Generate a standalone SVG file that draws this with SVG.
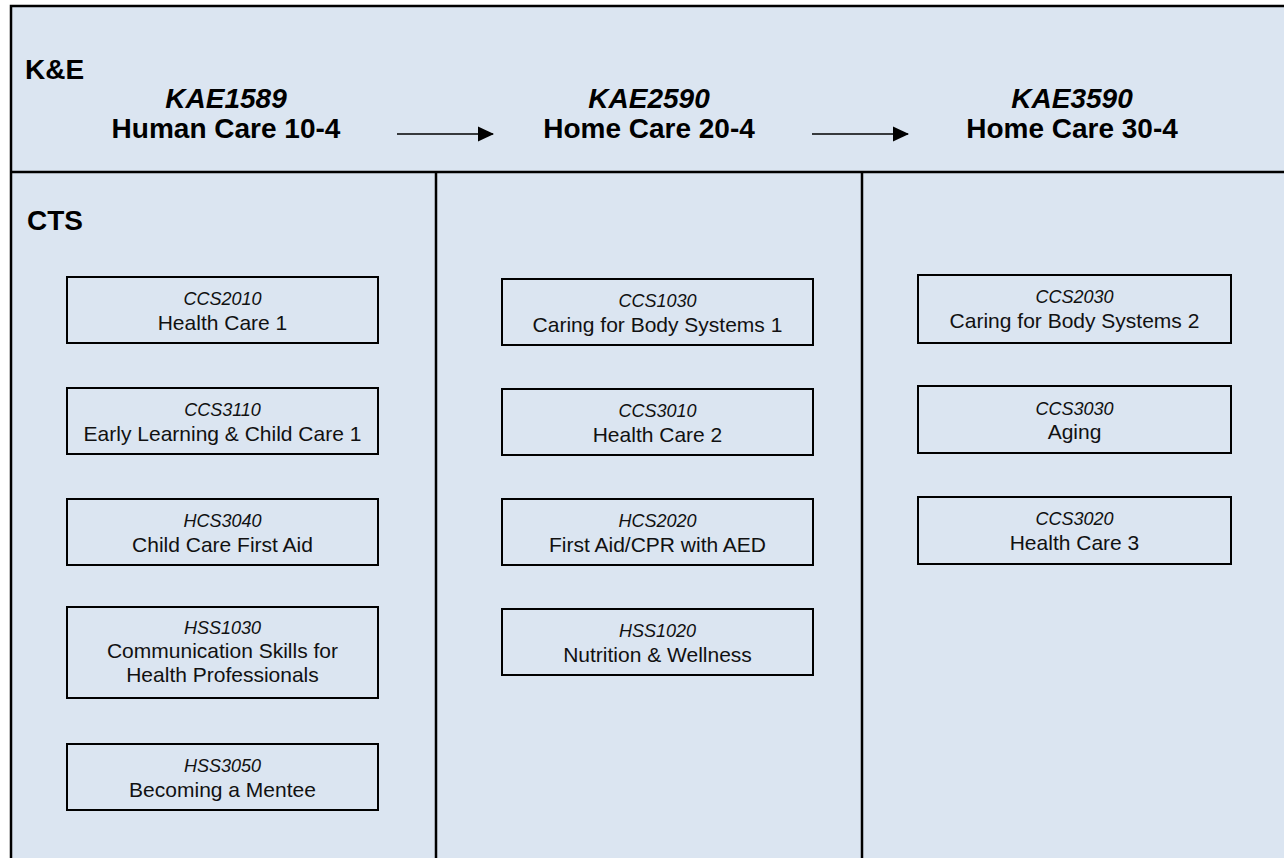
<svg xmlns="http://www.w3.org/2000/svg" width="1284" height="858" viewBox="0 0 1284 858">
<style>
.frame{fill:#DBE5F1;stroke:#000;stroke-width:2.5}
.div{stroke:#000;stroke-width:2.5;fill:none}
.box{fill:#DBE5F1;stroke:#000;stroke-width:2}
.hd{font-family:"Liberation Sans",Arial,sans-serif;font-size:28px;font-weight:bold;fill:#000}
.hdc{font-family:"Liberation Sans",Arial,sans-serif;font-size:28px;font-weight:bold;font-style:italic;fill:#000;text-anchor:middle}
.hdn{font-family:"Liberation Sans",Arial,sans-serif;font-size:28px;font-weight:bold;fill:#000;text-anchor:middle}
.code{font-family:"Liberation Sans",Arial,sans-serif;font-size:18px;font-style:italic;fill:#111;text-anchor:middle}
.name{font-family:"Liberation Sans",Arial,sans-serif;font-size:21px;fill:#111;text-anchor:middle}
.conn{stroke:#000;stroke-width:1.5;fill:none}
</style>
<defs>
<marker id="ah" markerUnits="userSpaceOnUse" markerWidth="16" markerHeight="16" refX="15" refY="8" orient="auto">
<path d="M0,0.5 L16,8 L0,15.5 Z" fill="#000"/>
</marker>
</defs>
<rect width="1284" height="858" fill="#fff"/>
<g id="frame">
<rect class="frame" x="11" y="6" width="1290" height="870"/>
<line class="div" x1="11" y1="172" x2="1290" y2="172"/>
<line class="div" x1="436" y1="172" x2="436" y2="870"/>
<line class="div" x1="862" y1="172" x2="862" y2="870"/>
<text class="hd" x="25" y="79">K&amp;E</text>
<text class="hd" x="27" y="230">CTS</text>
</g>
<g id="kae1589">
<text class="hdc" x="226" y="108">KAE1589</text>
<text class="hdn" x="226" y="138">Human Care 10-4</text>
</g>
<g id="kae2590">
<text class="hdc" x="649" y="108">KAE2590</text>
<text class="hdn" x="649" y="138">Home Care 20-4</text>
</g>
<g id="kae3590">
<text class="hdc" x="1072" y="108">KAE3590</text>
<text class="hdn" x="1072" y="138">Home Care 30-4</text>
</g>
<g id="connectors">
<line class="conn" x1="397" y1="134" x2="493" y2="134" marker-end="url(#ah)"/>
<line class="conn" x1="812" y1="134" x2="908" y2="134" marker-end="url(#ah)"/>
</g>
<g id="ccs2010"><rect class="box" x="67" y="277" width="311" height="66"/><text class="code" x="222.5" y="305">CCS2010</text><text class="name" x="222.5" y="330">Health Care 1</text></g>
<g id="ccs3110"><rect class="box" x="67" y="388" width="311" height="66"/><text class="code" x="222.5" y="416">CCS3110</text><text class="name" x="222.5" y="441">Early Learning &amp; Child Care 1</text></g>
<g id="hcs3040"><rect class="box" x="67" y="499" width="311" height="66"/><text class="code" x="222.5" y="527">HCS3040</text><text class="name" x="222.5" y="552">Child Care First Aid</text></g>
<g id="hss1030"><rect class="box" x="67" y="607" width="311" height="91"/><text class="code" x="222.5" y="634">HSS1030</text><text class="name" x="222.5" y="658">Communication Skills for</text><text class="name" x="222.5" y="682">Health Professionals</text></g>
<g id="hss3050"><rect class="box" x="67" y="744" width="311" height="66"/><text class="code" x="222.5" y="772">HSS3050</text><text class="name" x="222.5" y="797">Becoming a Mentee</text></g>
<g id="ccs1030"><rect class="box" x="502" y="279" width="311" height="66"/><text class="code" x="657.5" y="307">CCS1030</text><text class="name" x="657.5" y="332">Caring for Body Systems 1</text></g>
<g id="ccs3010"><rect class="box" x="502" y="389" width="311" height="66"/><text class="code" x="657.5" y="417">CCS3010</text><text class="name" x="657.5" y="442">Health Care 2</text></g>
<g id="hcs2020"><rect class="box" x="502" y="499" width="311" height="66"/><text class="code" x="657.5" y="527">HCS2020</text><text class="name" x="657.5" y="552">First Aid/CPR with AED</text></g>
<g id="hss1020"><rect class="box" x="502" y="609" width="311" height="66"/><text class="code" x="657.5" y="637">HSS1020</text><text class="name" x="657.5" y="662">Nutrition &amp; Wellness</text></g>
<g id="ccs2030"><rect class="box" x="918" y="275" width="313" height="68"/><text class="code" x="1074.5" y="303">CCS2030</text><text class="name" x="1074.5" y="328">Caring for Body Systems 2</text></g>
<g id="ccs3030"><rect class="box" x="918" y="386" width="313" height="67"/><text class="code" x="1074.5" y="415">CCS3030</text><text class="name" x="1074.5" y="439">Aging</text></g>
<g id="ccs3020"><rect class="box" x="918" y="497" width="313" height="67"/><text class="code" x="1074.5" y="525">CCS3020</text><text class="name" x="1074.5" y="550">Health Care 3</text></g>
</svg>
